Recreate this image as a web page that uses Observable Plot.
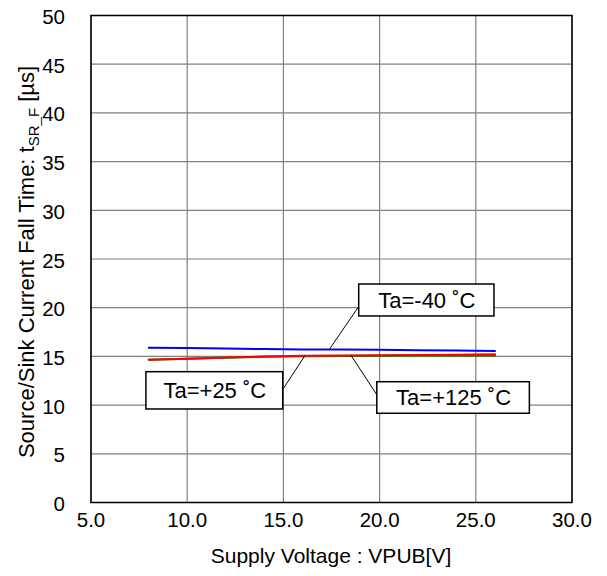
<!DOCTYPE html>
<html><head><meta charset="utf-8">
<script src="https://cdn.jsdelivr.net/npm/d3@7"></script>
<script src="https://cdn.jsdelivr.net/npm/@observablehq/plot@0.6"></script>
<style>body{margin:0;background:#fff} svg{display:block}</style>
</head><body><div id="chart"></div>
<script>
// ---- data ----
const voltage = [8, 10, 12, 14, 16, 18, 20, 22, 24, 26];
const tM40  = [15.9, 15.85, 15.8, 15.76, 15.72, 15.7, 15.67, 15.63, 15.6, 15.56];
const tP25  = [14.65, 14.75, 14.88, 15.0, 15.07, 15.1, 15.12, 15.15, 15.18, 15.22];
const tP125 = [14.65, 14.75, 14.87, 14.97, 15.02, 15.05, 15.07, 15.08, 15.09, 15.1];
const xTicks = [5, 10, 15, 20, 25, 30];
const yTicks = [0, 5, 10, 15, 20, 25, 30, 35, 40, 45, 50];
const labelText = ["Ta=-40 ˚C", "Ta=+25 ˚C", "Ta=+125 ˚C"];
// annotation boxes (data units)
const boxX1 = [18.94, 7.88, 19.88];
const boxX2 = [25.97, 14.99, 27.81];
const boxY1 = [19.1, 9.55, 9.11];
const boxY2 = [22.38, 13.38, 12.35];
// leader lines (data units)
const leadX1 = [18.94, 14.99, 19.88];
const leadY1 = [20.2, 11.67, 10.99];
const leadX2 = [17.41, 16.11, 18.52];
const leadY2 = [15.78, 15.06, 15.09];

const font = "'Liberation Sans', Arial, Helvetica, sans-serif";
const mk = (ys) => voltage.map((v, i) => ({x: v, y: ys[i]}));
const boxes = labelText.map((t, i) => ({
  t, x1: boxX1[i], x2: boxX2[i], y1: boxY1[i], y2: boxY2[i],
  cx: (boxX1[i] + boxX2[i]) / 2, cy: (boxY1[i] + boxY2[i]) / 2
}));
const leaders = labelText.map((t, i) => ({x1: leadX1[i], y1: leadY1[i], x2: leadX2[i], y2: leadY2[i]}));

const chart = Plot.plot({
  width: 607, height: 576,
  marginLeft: 90.5, marginRight: 35.5, marginTop: 15, marginBottom: 74,
  style: {fontFamily: font, background: "#fff"},
  x: {domain: [5, 30]},
  y: {domain: [0, 50]},
  marks: [
    Plot.gridX(xTicks, {stroke: "#808080", strokeOpacity: 1, strokeWidth: 1.2}),
    Plot.gridY(yTicks, {stroke: "#808080", strokeOpacity: 1, strokeWidth: 1.2}),
    Plot.axisX(xTicks, {tickSize: 0, tickPadding: 10, fontSize: 20.5, tickFormat: d => d.toFixed(1), label: null, fill: "#000"}),
    Plot.axisY(yTicks, {tickSize: 0, tickPadding: 26, fontSize: 20.5, dy: 2, label: null, fill: "#000"}),
    Plot.line(mk(tP125), {x: "x", y: "y", stroke: "#008000", strokeWidth: 2}),
    Plot.line(mk(tP25), {x: "x", y: "y", stroke: "#ff0000", strokeWidth: 2}),
    Plot.line(mk(tM40), {x: "x", y: "y", stroke: "#0000ff", strokeWidth: 2}),
    Plot.link(leaders, {x1: "x1", y1: "y1", x2: "x2", y2: "y2", stroke: "#000", strokeWidth: 1}),
    Plot.rect(boxes, {x1: "x1", x2: "x2", y1: "y1", y2: "y2", fill: "#fff", stroke: "#000", strokeWidth: 1.5}),
    Plot.text(boxes, {x: "cx", y: "cy", text: "t", fontSize: 22, fill: "#000"}),
    Plot.frame({stroke: "#000", strokeWidth: 1.5})
  ]
});

const svg = d3.select(chart);
svg.append("text")
  .attr("x", 331).attr("y", 563)
  .attr("text-anchor", "middle")
  .attr("font-family", font).attr("font-size", 21).attr("fill", "#000")
  .text("Supply Voltage : VPUB[V]");
const yl = svg.append("text")
  .attr("transform", "translate(34,262) rotate(-90)")
  .attr("text-anchor", "middle")
  .attr("font-family", font).attr("font-size", 22).attr("fill", "#000");
yl.append("tspan").text("Source/Sink Current Fall Time: t");
yl.append("tspan").attr("font-size", 15).attr("dy", 5).text("SR_F");
yl.append("tspan").attr("dy", -5).text(" [µs]");

document.getElementById("chart").appendChild(chart);
</script>
</body></html>
